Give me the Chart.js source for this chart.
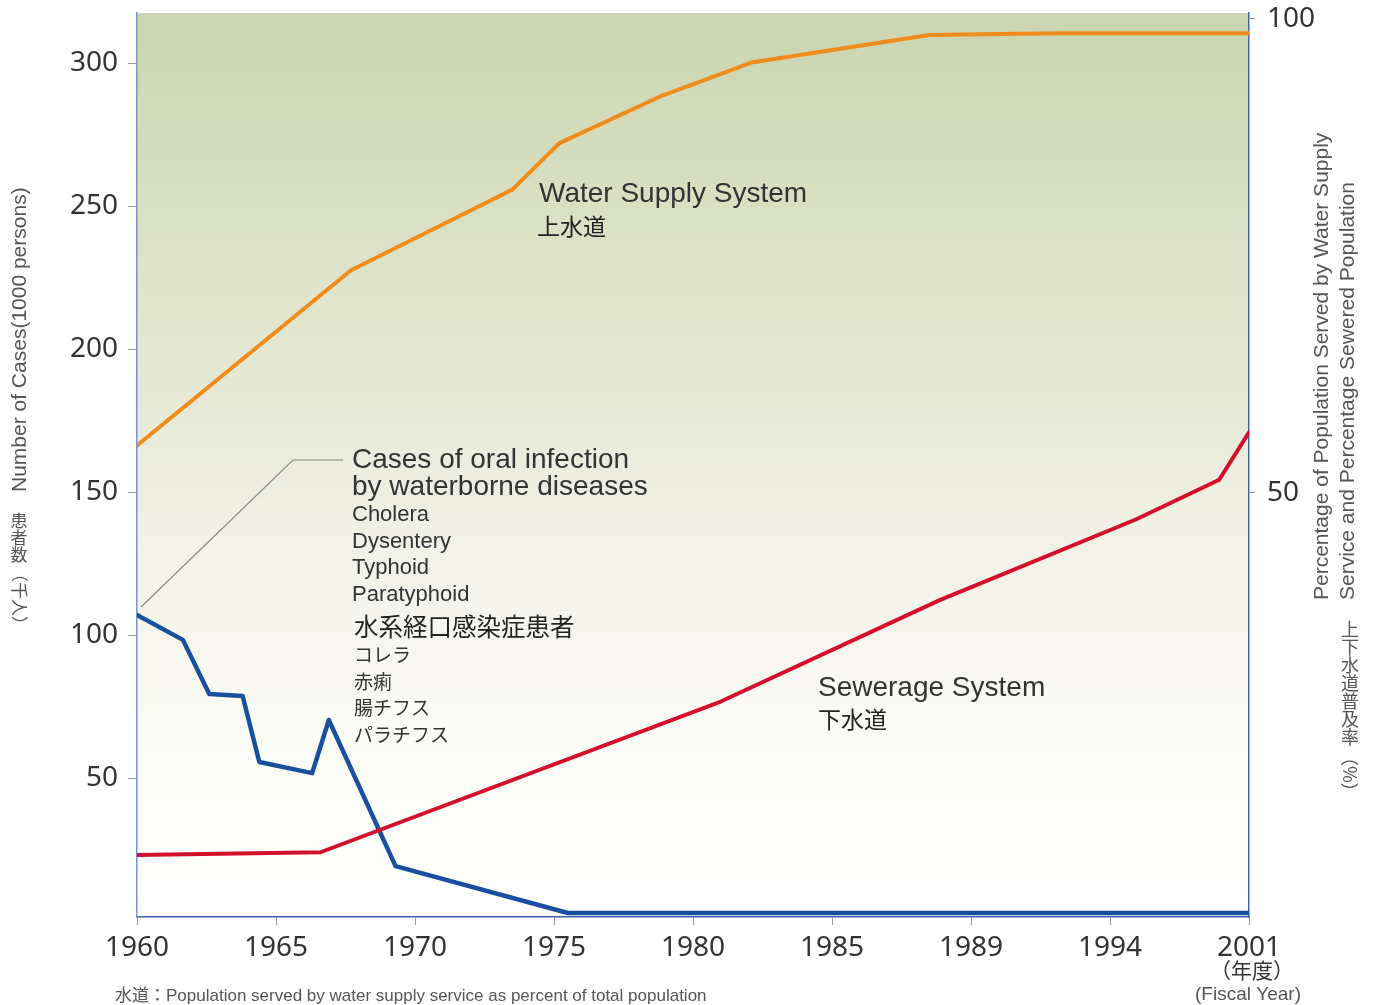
<!DOCTYPE html>
<html>
<head>
<meta charset="utf-8">
<script src="https://cdn.jsdelivr.net/npm/chart.js@4.4.1/dist/chart.umd.min.js"></script>
<style>
  html, body { margin: 0; padding: 0; background: #fff; }
  #wrap { width: 1373px; height: 1005px; position: relative; }
</style>
</head>
<body>
<div id="wrap"><canvas id="chart"></canvas></div>
<script>
// tick labels of the x axis (spaced evenly, as in the original)
const yearTicks = [1960, 1965, 1970, 1975, 1980, 1985, 1989, 1994, 2001];
const casesTicks = [50, 100, 150, 200, 250, 300];
const pctTicks = [50, 100];

// Water supply coverage (%)
const waterYears = [1960, 1967.7, 1973.5, 1975.2, 1978.8, 1982.1, 1987.8, 1992.1, 2001];
const waterPct = [55.0, 73.5, 82.0, 86.9, 91.8, 95.4, 98.3, 98.5, 98.5];

// Sewered population (%)
const sewerYears = [1960, 1966.6, 1981.0, 1988.1, 1995.3, 1999.5, 2001];
const sewerPct = [11.8, 12.1, 28.0, 38.7, 47.2, 51.4, 56.4];

// waterborne disease cases (1000 persons)
const casesYears = [1960, 1961.65, 1962.6, 1963.8, 1964.4, 1966.3, 1966.9, 1969.3, 1975.5, 2001];
const casesK = [107, 98.3, 79.4, 78.7, 55.6, 51.7, 70.3, 19.2, 2.8, 2.8];

const JP = '"Noto Sans CJK JP"';
const SANS = '"Liberation Sans", "Noto Sans CJK JP", sans-serif';

// year -> position on the evenly spaced tick axis
function yearToPos(y) {
    for (let i = 0; i < yearTicks.length - 1; i++) {
        if (y <= yearTicks[i + 1]) {
            return i + (y - yearTicks[i]) / (yearTicks[i + 1] - yearTicks[i]);
        }
    }
    return yearTicks.length - 1;
}

function pts(years, vals) {
    return years.map((y, i) => ({ x: yearToPos(y), y: vals[i] }));
}

function txt(ctx, s, x, y, size, color, align, font) {
    ctx.font = size + 'px ' + (font || SANS);
    ctx.fillStyle = color || '#333';
    ctx.textAlign = align || 'left';
    ctx.textBaseline = 'middle';
    ctx.fillText(s, x, y);
}

// vertical (tategaki) japanese text, upright chars, parens rotated
function vtext(ctx, chars, rotated, x, y, size, color) {
    ctx.font = size + 'px ' + JP;
    ctx.fillStyle = color;
    ctx.textAlign = 'center';
    ctx.textBaseline = 'middle';
    let cy = y;
    for (const c of chars) {
        ctx.fillText(c, x, cy + size / 2);
        cy += size;
    }
    ctx.save();
    ctx.translate(x, cy + 2);
    ctx.rotate(Math.PI / 2);
    ctx.textAlign = 'left';
    ctx.fillText(rotated, 0, 0);
    ctx.restore();
}

// keep the plot box where the original has it
function noPad(s) {
    s.paddingTop = 0; s.paddingBottom = 0; s.paddingLeft = 0; s.paddingRight = 0;
}

const decor = {
    id: 'decor',
    beforeDraw(chart) {
        const { ctx, chartArea: a } = chart;
        ctx.save();
        const g = ctx.createLinearGradient(0, a.top, 0, a.bottom);
        g.addColorStop(0, '#cbd5b0');
        g.addColorStop(0.3, '#dfe4cb');
        g.addColorStop(0.55, '#efefe2');
        g.addColorStop(0.78, '#fbfbf5');
        g.addColorStop(1, '#ffffff');
        ctx.fillStyle = g;
        ctx.fillRect(a.left, a.top, a.right - a.left, a.bottom - a.top);
        ctx.restore();
    },
    afterDraw(chart) {
        const ctx = chart.ctx;
        const x = chart.scales.x, y = chart.scales.y;
        ctx.save();

        // leader line to the cases series
        ctx.strokeStyle = '#8a8a80';
        ctx.lineWidth = 1.2;
        ctx.beginPath();
        ctx.moveTo(x.getPixelForValue(0) + 4, y.getPixelForValue(casesK[0]) - 8);
        ctx.lineTo(293, 460);
        ctx.lineTo(343, 460);
        ctx.stroke();

        txt(ctx, 'Water Supply System', 539, 194, 28, '#333');
        txt(ctx, '上水道', 537, 226, 23, '#222', 'left', JP);

        txt(ctx, 'Cases of oral infection', 352, 460, 28, '#333');
        txt(ctx, 'by waterborne diseases', 352, 487, 28, '#333');
        const en = ['Cholera', 'Dysentery', 'Typhoid', 'Paratyphoid'];
        en.forEach((s, i) => txt(ctx, s, 352, 515 + i * 26.5, 22, '#333'));
        txt(ctx, '水系経口感染症患者', 354, 627, 24.5, '#222', 'left', JP);
        const jp = ['コレラ', '赤痢', '腸チフス', 'パラチフス'];
        jp.forEach((s, i) => txt(ctx, s, 354, 655 + i * 26.5, 19, '#333', 'left', JP));

        txt(ctx, 'Sewerage System', 818, 688, 28, '#333');
        txt(ctx, '下水道', 818, 719, 23, '#222', 'left', JP);

        // left axis title
        ctx.save();
        ctx.translate(20, 492);
        ctx.rotate(-Math.PI / 2);
        txt(ctx, 'Number of Cases(1000 persons)', 0, 0, 21, '#555');
        ctx.restore();
        vtext(ctx, '患者数', '（千人）', 19, 512, 17, '#555');

        // right axis title
        ctx.save();
        ctx.translate(1322, 600);
        ctx.rotate(-Math.PI / 2);
        txt(ctx, 'Percentage of Population Served by Water Supply', 0, 0, 21, '#555');
        txt(ctx, 'Service and Percentage Sewered Population', 0, 26, 21, '#555');
        ctx.restore();
        vtext(ctx, '上下水道普及率', '（%）', 1350, 620, 18, '#555');

        // fiscal year note
        txt(ctx, '（年度）', 1252, 970, 21, '#333', 'center', JP);
        txt(ctx, '(Fiscal Year)', 1248, 995, 19, '#555', 'center');

        txt(ctx, '水道：Population served by water supply service as percent of total population', 115, 996, 17, '#555');
        ctx.restore();
    }
};

const ctx = document.getElementById('chart').getContext('2d');
const chart = new Chart(ctx, {
    type: 'line',
    data: {
        datasets: [{
            label: 'Water Supply System',
            data: pts(waterYears, waterPct),
            yAxisID: 'y1',
            borderColor: '#f08c1c',
            borderWidth: 4
        }, {
            label: 'Sewerage System',
            data: pts(sewerYears, sewerPct),
            yAxisID: 'y1',
            borderColor: '#d40f2b',
            borderWidth: 4
        }, {
            label: 'Cases',
            data: pts(casesYears, casesK),
            yAxisID: 'y',
            borderColor: '#18509f',
            borderWidth: 4.5
        }]
    },
    options: {
        responsive: true,
        maintainAspectRatio: false,
        animation: false,
        layout: { padding: { top: 13 } },
        elements: {
            point: { radius: 0 },
            line: { tension: 0, borderJoinStyle: 'round', borderCapStyle: 'round' }
        },
        plugins: { legend: { display: false }, tooltip: { enabled: false } },
        scales: {
            x: {
                type: 'linear',
                min: 0,
                max: yearTicks.length - 1,
                afterBuildTicks: s => { s.ticks = yearTicks.map((_, i) => ({ value: i })); },
                afterFit: s => { s.height = 88; noPad(s); },
                border: { color: '#3e5ea8', width: 1.5 },
                grid: { drawOnChartArea: false, tickLength: 8, color: '#999' },
                ticks: {
                    autoSkip: false, maxRotation: 0, padding: 6,
                    color: '#333', font: { family: 'Noto Sans', size: 28 },
                    callback: v => yearTicks[v]
                }
            },
            y: {
                position: 'left',
                min: 1.4,
                max: 317.5,
                afterBuildTicks: s => { s.ticks = casesTicks.map(v => ({ value: v })); },
                afterFit: s => { s.width = 137; noPad(s); },
                border: { color: '#7b93cc', width: 1.5 },
                grid: { drawOnChartArea: false, tickLength: 9, color: '#999' },
                ticks: { padding: 10, color: '#333', font: { family: 'Noto Sans', size: 28 } }
            },
            y1: {
                position: 'right',
                min: 5.27,
                max: 100.63,
                afterBuildTicks: s => { s.ticks = pctTicks.map(v => ({ value: v })); },
                afterFit: s => { s.width = 124; noPad(s); },
                border: { color: '#4a64aa', width: 1.5 },
                grid: { drawOnChartArea: false, tickLength: 6, color: '#999' },
                ticks: { padding: 12, color: '#333', font: { family: 'Noto Sans', size: 28 } }
            }
        }
    },
    plugins: [decor]
});
</script>
</body>
</html>
